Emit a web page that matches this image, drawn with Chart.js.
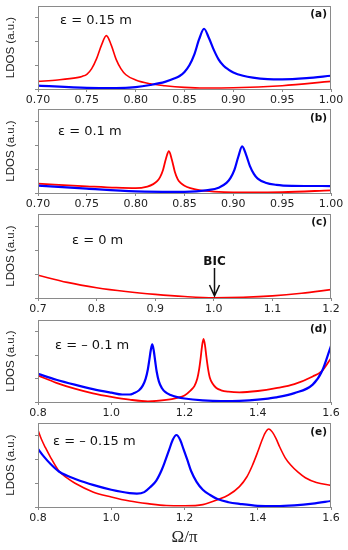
<!DOCTYPE html>
<html>
<head>
<meta charset="utf-8">
<script src="https://cdn.jsdelivr.net/npm/chart.js@4.4.1/dist/chart.umd.min.js"></script>
<style>
  body { margin: 0; background: #fff; width: 348px; height: 550px; position: relative; overflow: hidden; }
  canvas { position: absolute; left: 0; }
</style>
</head>
<body>
<canvas id="pa"></canvas>
<canvas id="pb"></canvas>
<canvas id="pc"></canvas>
<canvas id="pd"></canvas>
<canvas id="pe"></canvas>
<script>
// --- panel (a): eps = 0.15 m ---
const aRedX  = [0.70, 0.72, 0.74, 0.745, 0.75, 0.755, 0.76, 0.765, 0.77, 0.775, 0.78, 0.785, 0.79, 0.80, 0.815, 0.83, 0.85, 0.87, 0.90, 0.95, 1.00];
const aRedY  = [0.32, 0.38, 0.48, 0.53, 0.62, 0.86, 1.28, 1.85, 2.25, 1.85, 1.25, 0.85, 0.6, 0.38, 0.22, 0.14, 0.07, 0.04, 0.05, 0.14, 0.32];
const aBlueX = [0.70, 0.75, 0.78, 0.80, 0.815, 0.83, 0.84, 0.845, 0.85, 0.855, 0.86, 0.865, 0.87, 0.875, 0.88, 0.885, 0.89, 0.895, 0.90, 0.91, 0.92, 0.935, 0.95, 0.975, 1.00];
const aBlueY = [0.14, 0.05, 0.04, 0.08, 0.17, 0.3, 0.45, 0.55, 0.72, 1.0, 1.45, 2.1, 2.54, 2.15, 1.65, 1.24, 0.98, 0.82, 0.7, 0.56, 0.48, 0.42, 0.41, 0.46, 0.56];

// --- panel (b): eps = 0.1 m ---
const bRedX  = [0.70, 0.75, 0.78, 0.80, 0.812, 0.818, 0.822, 0.825, 0.828, 0.831, 0.834, 0.837, 0.840, 0.843, 0.846, 0.85, 0.856, 0.865, 0.88, 0.90, 0.95, 1.00];
const bRedY  = [0.39, 0.28, 0.22, 0.2, 0.27, 0.37, 0.49, 0.66, 0.96, 1.43, 1.74, 1.4, 0.9, 0.58, 0.42, 0.3, 0.2, 0.12, 0.06, 0.03, 0.04, 0.11];
const bBlueX = [0.70, 0.75, 0.80, 0.85, 0.874, 0.885, 0.893, 0.897, 0.901, 0.905, 0.909, 0.913, 0.917, 0.921, 0.925, 0.933, 0.944, 0.96, 1.00];
const bBlueY = [0.31, 0.18, 0.07, 0.05, 0.12, 0.22, 0.42, 0.62, 0.95, 1.5, 1.94, 1.6, 1.12, 0.8, 0.6, 0.43, 0.34, 0.3, 0.29];

// --- panel (c): eps = 0 m ---
const cRedX = [0.7, 0.75, 0.8, 0.85, 0.9, 0.95, 1.0, 1.05, 1.1, 1.15, 1.2];
const cRedY = [0.95, 0.65, 0.43, 0.27, 0.15, 0.06, 0.01, 0.03, 0.09, 0.2, 0.35];
const bicX = 1.0;

// --- panel (d): eps = -0.1 m ---
const dRedX  = [0.8, 0.85, 0.9, 0.95, 1.0, 1.05, 1.1, 1.15, 1.18, 1.2, 1.217, 1.227, 1.235, 1.24, 1.244, 1.248, 1.252, 1.256, 1.26, 1.264, 1.269, 1.277, 1.287, 1.30, 1.32, 1.35, 1.4, 1.45, 1.5, 1.55, 1.575, 1.6];
const dRedY  = [1.13, 0.82, 0.57, 0.37, 0.22, 0.1, 0.03, 0.09, 0.18, 0.28, 0.5, 0.68, 1.0, 1.4, 1.86, 2.4, 2.69, 2.42, 1.9, 1.45, 1.05, 0.78, 0.6, 0.5, 0.44, 0.41, 0.47, 0.59, 0.76, 1.09, 1.32, 1.87];
const dBlueX = [0.8, 0.85, 0.9, 0.95, 1.0, 1.03, 1.05, 1.062, 1.076, 1.086, 1.094, 1.1, 1.104, 1.108, 1.112, 1.116, 1.12, 1.124, 1.13, 1.138, 1.148, 1.162, 1.18, 1.2, 1.25, 1.3, 1.35, 1.4, 1.45, 1.5, 1.55, 1.575, 1.6];
const dBlueY = [1.2, 0.95, 0.74, 0.55, 0.4, 0.32, 0.32, 0.38, 0.5, 0.7, 1.0, 1.4, 1.8, 2.22, 2.46, 2.2, 1.74, 1.3, 0.88, 0.6, 0.42, 0.3, 0.21, 0.15, 0.07, 0.04, 0.05, 0.1, 0.2, 0.38, 0.74, 1.3, 2.4];

// --- panel (e): eps = -0.15 m ---
const eRedX  = [0.8, 0.81, 0.82, 0.835, 0.857, 0.88, 0.9, 0.95, 1.0, 1.05, 1.1, 1.15, 1.2, 1.25, 1.29, 1.32, 1.35, 1.37, 1.385, 1.40, 1.41, 1.42, 1.43, 1.44, 1.45, 1.46, 1.475, 1.49, 1.51, 1.53, 1.56, 1.6];
const eRedY  = [3.2, 2.8, 2.48, 2.05, 1.5, 1.2, 1.0, 0.63, 0.42, 0.25, 0.14, 0.06, 0.05, 0.1, 0.3, 0.5, 0.85, 1.25, 1.72, 2.3, 2.72, 3.08, 3.25, 3.12, 2.85, 2.5, 2.05, 1.75, 1.45, 1.22, 1.02, 0.9];
const eBlueX = [0.8, 0.815, 0.835, 0.857, 0.88, 0.9, 0.95, 1.0, 1.05, 1.07, 1.09, 1.108, 1.123, 1.138, 1.148, 1.158, 1.168, 1.178, 1.188, 1.198, 1.208, 1.218, 1.233, 1.25, 1.27, 1.29, 1.32, 1.35, 1.4, 1.45, 1.5, 1.55, 1.6];
const eBlueY = [2.42, 2.12, 1.78, 1.48, 1.3, 1.18, 0.92, 0.72, 0.58, 0.56, 0.62, 0.85, 1.1, 1.55, 1.95, 2.38, 2.8, 3.0, 2.8, 2.38, 1.95, 1.5, 1.05, 0.72, 0.5, 0.33, 0.2, 0.13, 0.05, 0.04, 0.07, 0.14, 0.25];

// tick ranges
const xRangeA = [0.70, 1.00, 0.05];
const xRangeC = [0.7, 1.2, 0.1];
const xRangeD = [0.8, 1.6, 0.2];
const yRange  = [0, 3.5, 1];

const RED = '#ff0000', BLUE = '#0000ff', AXIS = '#8a8a8a';

// frame, panel tag, eps label and the BIC arrow
const panelText = {
  id: 'panelText',
  afterDatasetsDraw(chart, args, o) {
    const { ctx, chartArea: a } = chart;
    ctx.save();
    ctx.strokeStyle = AXIS;
    ctx.lineWidth = 1;
    ctx.strokeRect(Math.round(a.left) + 0.5, Math.round(a.top) + 0.5, Math.round(a.right - a.left) - 1, Math.round(a.bottom - a.top));
    ctx.fillStyle = '#111';
    ctx.textBaseline = 'middle';
    ctx.font = 'bold 10.5px "DejaVu Sans"';
    ctx.textAlign = 'right';
    ctx.fillText(o.tag, a.right - 4, a.top + o.tagY);
    ctx.font = '13px "DejaVu Sans"';
    ctx.textAlign = 'left';
    ctx.fillText(o.eps, o.epsX, a.top + o.epsY);
    if (o.bic) {
      const x = Math.round(chart.scales.x.getPixelForValue(bicX)) + 0.5;
      ctx.font = 'bold 12px "DejaVu Sans"';
      ctx.textAlign = 'center';
      ctx.fillText('BIC', x, a.top + 48);
      ctx.strokeStyle = '#111';
      ctx.lineWidth = 1.5;
      ctx.beginPath();
      ctx.moveTo(x, a.top + 54);
      ctx.lineTo(x, a.top + 82);
      ctx.moveTo(x - 5, a.top + 71);
      ctx.lineTo(x, a.top + 82);
      ctx.lineTo(x + 5, a.top + 71);
      ctx.stroke();
    }
    ctx.restore();
  }
};
Chart.register(panelText);

function pts(xs, ys) {
  return xs.map((x, i) => ({ x: x, y: ys[i] }));
}

function makePanel(id, p) {
  const cv = document.getElementById(id);
  cv.width = 348;
  cv.height = p.h;
  cv.style.top = p.top + 'px';
  const sets = p.series.map(s => ({
    data: pts(s[0], s[1]),
    borderColor: s[2],
    borderWidth: s[3],
    pointRadius: 0,
    fill: false,
    cubicInterpolationMode: 'monotone'
  }));
  return new Chart(cv, {
    type: 'line',
    data: { datasets: sets },
    options: {
      responsive: false,
      animation: false,
      devicePixelRatio: 1,
      layout: { padding: { left: 0, right: 17, top: 4, bottom: 0 } },
      plugins: {
        legend: { display: false },
        tooltip: { enabled: false },
        panelText: p.text
      },
      scales: {
        x: {
          type: 'linear',
          min: p.xr[0], max: p.xr[1],
          grid: { drawOnChartArea: false, drawTicks: true, tickLength: 3, color: AXIS },
          border: { display: true, color: AXIS },
          ticks: {
            stepSize: p.xr[2], padding: 2, maxRotation: 0, autoSkip: false,
            color: '#222', font: { family: 'DejaVu Sans', size: 11 },
            callback: v => v.toFixed(p.dec)
          },
          title: p.xTitle ? {
            display: true, text: 'Ω/π', color: '#222',
            font: { family: 'Liberation Serif', size: 17 }, padding: { top: 2, bottom: 0 }
          } : { display: false },
          afterFit: s => { s.height = p.xh; }
        },
        y: {
          min: yRange[0], max: yRange[1],
          grid: { drawOnChartArea: false, drawTicks: true, tickLength: 3, color: AXIS },
          border: { display: true, color: AXIS },
          ticks: { display: false, stepSize: yRange[2], includeBounds: false },
          title: {
            display: true, text: 'LDOS (a.u.)', color: '#222',
            font: { family: 'Liberation Sans', size: 11.5 }, padding: { top: 4, bottom: 0 }
          },
          afterFit: s => { s.width = 38; }
        }
      }
    }
  });
}

makePanel('pa', {
  top: 2, h: 111, xh: 24, xr: xRangeA, dec: 2,
  series: [[aBlueX, aBlueY, BLUE, 2.2], [aRedX, aRedY, RED, 1.6]],
  text: { tag: '(a)', tagY: 8, eps: 'ε = 0.15 m', epsX: 60, epsY: 15 }
});
makePanel('pb', {
  top: 105, h: 112, xh: 24, xr: xRangeA, dec: 2,
  series: [[bBlueX, bBlueY, BLUE, 2.2], [bRedX, bRedY, RED, 1.8]],
  text: { tag: '(b)', tagY: 9, eps: 'ε = 0.1 m', epsX: 58, epsY: 23 }
});
makePanel('pc', {
  top: 210, h: 112, xh: 24, xr: xRangeC, dec: 1,
  series: [[cRedX, cRedY, RED, 1.6]],
  text: { tag: '(c)', tagY: 8, eps: 'ε = 0 m', epsX: 72, epsY: 27, bic: true }
});
makePanel('pd', {
  top: 316, h: 110, xh: 24, xr: xRangeD, dec: 1,
  series: [[dBlueX, dBlueY, BLUE, 2.2], [dRedX, dRedY, RED, 1.8]],
  text: { tag: '(d)', tagY: 9, eps: 'ε = – 0.1 m', epsX: 55, epsY: 26 }
});
makePanel('pe', {
  top: 419, h: 129, xh: 41, xr: xRangeD, dec: 1, xTitle: true,
  series: [[eBlueX, eBlueY, BLUE, 2.2], [eRedX, eRedY, RED, 1.6]],
  text: { tag: '(e)', tagY: 9, eps: 'ε = – 0.15 m', epsX: 53, epsY: 19 }
});
</script>
</body>
</html>
